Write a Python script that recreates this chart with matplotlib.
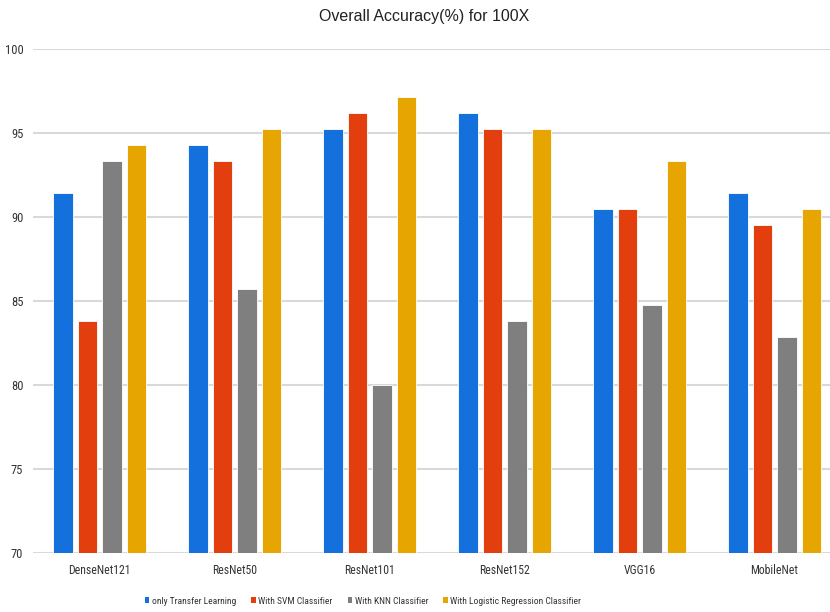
import matplotlib
matplotlib.use("Agg")
import matplotlib.pyplot as plt
from matplotlib.patches import Patch
import numpy as np

plt.rcParams['font.family'] = ['Liberation Sans', 'DejaVu Sans']
narrow = ['Roboto Condensed', 'Liberation Sans', 'DejaVu Sans']

models = ["DenseNet121", "ResNet50", "ResNet101", "ResNet152", "VGG16", "MobileNet"]
series_names = ["only Transfer Learning", "With SVM Classifier",
                "With KNN Classifier", "With Logistic Regression Classifier"]
transfer_only = [91.43, 94.29, 95.24, 96.19, 90.48, 91.43]
svm = [83.81, 93.33, 96.19, 95.24, 90.48, 89.52]
knn = [93.33, 85.71, 80.00, 83.81, 84.76, 82.86]
logreg = [94.29, 95.24, 97.14, 95.24, 93.33, 90.48]
y_ticks = [70, 75, 80, 85, 90, 95, 100]

colors = ["#1470DD", "#E33E0E", "#7F7F7F", "#E6A500"]
series = [transfer_only, svm, knn, logreg]

fig = plt.figure(figsize=(8.3, 6.12), dpi=100)
ax = fig.add_axes([0.0398, 0.0959, 0.9735, 0.8235])

x = np.arange(len(models))
step = 0.1815
width = 0.144
for i, (vals, col) in enumerate(zip(series, colors)):
    ax.bar(x + (i - 1.5) * step, np.array(vals) - 70, width, bottom=70,
           color=col, edgecolor='white', linewidth=0.6, zorder=3)

ax.set_ylim(70, 100)
ax.set_xlim(-0.4926, len(models) - 1 + 0.4926)
ax.set_yticks(y_ticks)
ax.set_yticklabels([str(t) for t in y_ticks], fontsize=9, color='#333333', family=narrow)
ax.set_xticks(x)
ax.set_xticklabels(models, fontsize=8.5, color='#333333', family=narrow)
ax.tick_params(axis='x', length=0, pad=8)
ax.tick_params(axis='y', length=0, pad=7)
ax.grid(axis='y', color='#d9d9d9', linewidth=1.5, zorder=0)
for s in ax.spines.values():
    s.set_visible(False)

fig.text(0.511, 1 - 16 / 612, "Overall Accuracy(%) for 100X", ha='center', va='center',
         fontsize=11.5, color='#222222')

handles = [Patch(facecolor=c, edgecolor='none') for c in colors]
fig.legend(handles, series_names, loc='center', bbox_to_anchor=(363 / 830, 1 - 601 / 612),
           ncol=4, frameon=False, handlelength=0.5, handleheight=0.5,
           handletextpad=0.25, columnspacing=1.6, labelcolor='#333333',
           prop={'family': narrow, 'size': 6.8})

fig.savefig("out.png", dpi=100, facecolor='white')
